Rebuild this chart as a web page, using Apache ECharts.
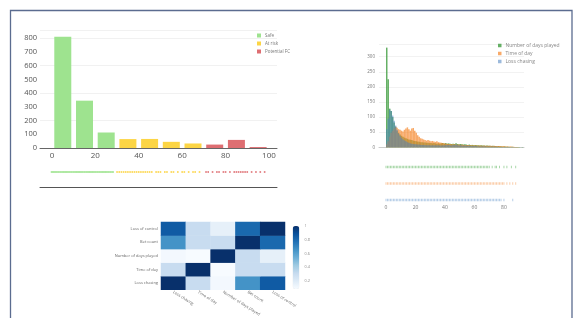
<!DOCTYPE html>
<html><head><meta charset="utf-8">
<script src="https://cdn.jsdelivr.net/npm/echarts@6/dist/echarts.min.js"></script>
<style>html,body{margin:0;padding:0;background:#fff}#c{width:575px;height:318px}</style>
</head><body><div id="c"></div>
<script>
// ---------- Left: risk score histogram ----------
const riskBinCenters = [5, 15, 25, 35, 45, 55, 65, 75, 85, 95];
const safeCounts = [811, 345, 113, null, null, null, null, null, null, null];
const atRiskCounts = [null, null, null, 65, 66, 45, 33, null, null, null];
const potentialFcCounts = [null, null, null, null, null, null, null, 25, 59, 7];
const riskXTicks = [0, 20, 40, 60, 80, 100];
const riskYTicks = [0, 100, 200, 300, 400, 500, 600, 700, 800];
const safeRug = [0,1,2,3,4,5,6,7,8,9,10,11,12,13,14,15,16,17,18,19,20,21,22,23,24,25,26,27,28];
const atRiskRug = [30,31,32,33,34,35,36,37,38,39,40,41,42,43,44,45,46,48,49,50,52,53,55,56,58,60,61,63,65,66,68];
const potentialFcRug = [71,72,74,76,77,79,80,82,84,85,86,87,88,89,90,92,94,96,98];

// ---------- Right: feature histograms ----------
const featureBinStarts = [0,1,2,3,4,5,6,7,8,9,10,11,12,13,14,15,16,17,18,19,20,21,22,23,24,25,26,27,28,29,30,31,32,33,34,35,36,37,38,39,40,41,42,43,44,45,46,47,48,49,50,51,52,53,54,55,56,57,58,59,60,61,62,63,64,65,66,67,68,69,70,71,72,73,74,75,76,77,78,79,80,81,82,83,84,85,86,87,88,89,90,91,92,93];
const daysPlayedCounts = [330,225,128,120,100,82,68,55,48,42,38,35,32,30,28,26,25,24,22,21,20,19,18,17,17,16,16,15,15,14,14,13,14,13,12,13,12,13,14,12,14,12,13,12,11,12,11,13,11,10,11,10,9,10,9,8,9,8,8,7,8,7,7,6,7,6,6,5,6,5,5,4,5,4,4,3,4,3,3,2,3,2,2,2,1,2,1,1,1,1,1,0,1,0];
const timeOfDayCounts = [10,20,35,48,55,62,68,65,60,58,55,52,58,62,66,60,55,62,64,55,48,40,35,30,28,26,24,22,24,22,20,21,19,18,20,17,16,15,14,13,12,12,11,11,10,10,10,9,9,9,8,9,8,8,7,8,7,7,7,6,7,6,6,6,6,5,6,5,5,5,5,5,4,5,4,4,4,4,3,4,3,3,3,2,3,2,2,1,1,1,0,0,0,0];
const lossChasingCounts = [60,95,125,120,105,88,72,58,46,38,32,27,23,20,17,15,13,12,11,10,10,9,9,8,8,8,7,7,7,7,6,7,6,7,6,7,6,6,7,6,8,7,8,7,6,8,7,9,7,6,7,6,5,6,5,5,5,4,4,4,4,4,3,3,3,3,3,3,2,2,2,2,2,2,2,2,1,1,1,1,1,1,1,1,0,1,0,0,0,0,0,0,0,0];
const featureXTicks = [0, 20, 40, 60, 80];
const featureYTicks = [0, 50, 100, 150, 200, 250, 300];
const daysPlayedRug = [0,1,2,3,4,5,6,7,8,9,10,11,12,13,14,15,16,17,18,19,20,21,22,23,24,25,26,27,28,29,30,31,32,33,34,35,36,37,38,39,40,41,42,43,44,45,46,47,48,49,50,51,52,53,54,55,56,57,58,59,60,61,62,63,64,65,66,67,68,69,70,72,74,75,77,80,82,85,88];
const timeOfDayRug = [0,1,2,3,4,5,6,7,8,9,10,11,12,13,14,15,16,17,18,19,20,21,22,23,24,25,26,27,28,29,30,31,32,33,34,35,36,37,38,39,40,41,42,43,44,45,46,47,48,49,50,51,52,53,54,55,56,57,58,59,60,61,62,63,64,65,66,67,68,69,70,71,72,73,74,75,76,77,78,79,80,82,84,86,88];
const lossChasingRug = [0,1,2,3,4,5,6,7,8,9,10,11,12,13,14,15,16,17,18,19,20,21,22,23,24,25,26,27,28,29,30,31,32,33,34,35,36,37,38,39,40,41,42,43,44,45,46,47,48,49,50,51,52,53,54,55,56,57,58,59,60,61,62,63,64,65,66,67,68,69,70,71,72,73,74,75,76,77,78,80,86];

// ---------- Bottom: correlation heatmap ----------
const corrLabels = ['Loss chasing', 'Time of day', 'Number of days played', 'Bet count', 'Loss of control'];
const corrMatrix = [ // rows: corrLabels (y, bottom->top), cols: corrLabels (x)
  [1.00, 0.30, 0.10, 0.65, 0.85],
  [0.30, 1.00, 0.08, 0.30, 0.30],
  [0.10, 0.08, 1.00, 0.30, 0.16],
  [0.65, 0.30, 0.30, 1.00, 0.80],
  [0.85, 0.30, 0.16, 0.80, 1.00]
];
const colorbarTicks = [0.2, 0.4, 0.6, 0.8, 1];

const FONT = '"Open Sans", sans-serif';
const safeC = '#9ee38f', riskC = '#fcd545', fcC = '#de6e72';
const gC = '#3f9c3f', oC = '#f5862a', bC = '#4a82c0';

const pairs = (xs, ys) => xs.map((x, i) => [x, ys[i]]);
const rug = xs => xs.map(x => [x, 0.5]);
const binPairs = ys => featureBinStarts.map((b, i) => [b + 0.5, ys[i]]);
const rugRow = (xs, row) => xs.map(x => [x, row]);

const heatData = [];
corrMatrix.forEach((row, yi) => row.forEach((v, xi) => heatData.push([xi, yi, v])));

const chart = echarts.init(document.getElementById('c'), null, {renderer: 'canvas'});
chart.setOption({
  animation: false,
  textStyle: {fontFamily: FONT},
  graphic: [{
    type: 'rect', shape: {x: 10.5, y: 10.5, width: 561.5, height: 330},
    style: {fill: 'none', stroke: '#5b6c90', lineWidth: 1.3}, silent: true, z: -1
  }],
  legend: [{
    data: ['Safe', 'At risk', 'Potential FC'], orient: 'vertical', left: 257, top: 33,
    itemWidth: 4, itemHeight: 4, itemGap: 3, icon: 'rect', padding: 0,
    textStyle: {fontSize: 4.5, color: '#777', padding: [0, 0, 0, -1]}
  }, {
    data: ['Number of days played', 'Time of day', 'Loss chasing'], orient: 'vertical', left: 498, top: 43,
    itemWidth: 3.5, itemHeight: 3.5, itemGap: 3, icon: 'rect', padding: 0,
    textStyle: {fontSize: 5, color: '#888', padding: [0, 0, 0, -1]}
  }],
  grid: [
    {left: 40, top: 30, width: 237, height: 118},          // 0 left hist
    {left: 40, top: 170, width: 237, height: 4},           // 1 left rug
    {left: 40, top: 186, width: 237, height: 1},           // 2 left line
    {left: 379, top: 44.6, width: 145, height: 102.7},     // 3 right hist
    {left: 379, top: 163.7, width: 145, height: 39.6},     // 4 right rugs
    {left: 161, top: 222, width: 124, height: 70},         // 5 heatmap
    {left: 293, top: 226, width: 6.6, height: 63}          // 6 colorbar ticks
  ],
  xAxis: [
    {gridIndex: 0, type: 'value', min: -5.5, max: 103.7,
      axisLine: {lineStyle: {color: '#666', width: 1}}, axisTick: {show: false}, splitLine: {show: false},
      axisLabel: {customValues: riskXTicks, fontSize: 8, color: '#555', margin: 4}},
    {gridIndex: 1, type: 'value', min: -5.5, max: 103.7, show: false},
    {gridIndex: 2, type: 'value', min: 0, max: 1, axisLine: {lineStyle: {color: '#555', width: 1}},
      axisTick: {show: false}, axisLabel: {show: false}, splitLine: {show: false}},
    {gridIndex: 3, type: 'value', min: -4.75, max: 93.6,
      axisLine: {lineStyle: {color: '#ccc', width: 1}}, axisTick: {show: false}, splitLine: {show: false},
      axisLabel: {show: false}},
    {gridIndex: 4, type: 'value', min: -4.75, max: 93.6,
      axisLine: {show: false}, axisTick: {show: false}, splitLine: {show: false},
      axisLabel: {customValues: featureXTicks, fontSize: 5, color: '#777', margin: 2}},
    {gridIndex: 5, type: 'category', data: corrLabels,
      axisLine: {show: false}, axisTick: {show: false}, splitLine: {show: false},
      axisLabel: {rotate: -32, fontSize: 4, color: '#666', margin: 2, interval: 0}},
    {gridIndex: 6, type: 'value', min: 0, max: 1, show: false}
  ],
  yAxis: [
    {gridIndex: 0, type: 'value', min: 0, max: 860,
      axisLine: {show: false}, axisTick: {show: false},
      splitLine: {lineStyle: {color: '#f1f1f1', width: 1}},
      axisLabel: {customValues: riskYTicks, fontSize: 7.5, color: '#555', margin: 3}},
    {gridIndex: 1, type: 'value', min: 0, max: 1, show: false},
    {gridIndex: 2, type: 'value', min: 0, max: 1, show: false},
    {gridIndex: 3, type: 'value', min: 0, max: 340,
      axisLine: {show: false}, axisTick: {show: false},
      splitLine: {lineStyle: {color: '#f2f2f2', width: 1}},
      axisLabel: {customValues: featureYTicks, fontSize: 4.5, color: '#777', margin: 4}},
    {gridIndex: 4, type: 'value', min: -0.2, max: 2.2, show: false},
    {gridIndex: 5, type: 'category', data: corrLabels,
      axisLine: {show: false}, axisTick: {show: false}, splitLine: {show: false},
      axisLabel: {fontSize: 4, color: '#666', margin: 3, interval: 0}},
    {gridIndex: 6, type: 'value', min: 0.084, max: 1, position: 'right',
      axisLine: {show: false}, axisTick: {show: false}, splitLine: {show: false},
      axisLabel: {customValues: colorbarTicks, fontSize: 3.8, color: '#888', margin: 5}}
  ],
  visualMap: {
    type: 'continuous', seriesIndex: 12, min: 0.08, max: 1, calculable: false,
    left: 292.7, top: 226, itemWidth: 6.6, itemHeight: 63, padding: 0, text: null, showLabel: false,
    inRange: {color: ['#f7fbff', '#deebf7', '#c6dbef', '#9ecae1', '#6baed6', '#4292c6', '#2171b5', '#08519c', '#08306b']}
  },
  series: [
    {name: 'Safe', type: 'bar', xAxisIndex: 0, yAxisIndex: 0, barWidth: 17, barGap: '-100%',
      itemStyle: {color: safeC}, data: pairs(riskBinCenters, safeCounts)},
    {name: 'At risk', type: 'bar', xAxisIndex: 0, yAxisIndex: 0, barWidth: 17, barGap: '-100%',
      itemStyle: {color: riskC}, data: pairs(riskBinCenters, atRiskCounts)},
    {name: 'Potential FC', type: 'bar', xAxisIndex: 0, yAxisIndex: 0, barWidth: 17, barGap: '-100%',
      itemStyle: {color: fcC}, data: pairs(riskBinCenters, potentialFcCounts)},
    {name: 'Safe', type: 'scatter', xAxisIndex: 1, yAxisIndex: 1, symbol: 'rect', symbolSize: [2.4, 2],
      itemStyle: {color: safeC}, data: rug(safeRug)},
    {name: 'At risk', type: 'scatter', xAxisIndex: 1, yAxisIndex: 1, symbol: 'rect', symbolSize: [1.6, 2],
      itemStyle: {color: riskC}, data: rug(atRiskRug)},
    {name: 'Potential FC', type: 'scatter', xAxisIndex: 1, yAxisIndex: 1, symbol: 'rect', symbolSize: [1.6, 2],
      itemStyle: {color: fcC}, data: rug(potentialFcRug)},
    {name: 'Number of days played', type: 'bar', xAxisIndex: 3, yAxisIndex: 3, barWidth: 1.5, barGap: '-100%',
      itemStyle: {color: gC, opacity: 0.8}, data: binPairs(daysPlayedCounts)},
    {name: 'Time of day', type: 'bar', xAxisIndex: 3, yAxisIndex: 3, barWidth: 1.5, barGap: '-100%',
      itemStyle: {color: oC, opacity: 0.7}, data: binPairs(timeOfDayCounts)},
    {name: 'Loss chasing', type: 'bar', xAxisIndex: 3, yAxisIndex: 3, barWidth: 1.5, barGap: '-100%',
      itemStyle: {color: bC, opacity: 0.55}, data: binPairs(lossChasingCounts)},
    {name: 'Number of days played', type: 'scatter', xAxisIndex: 4, yAxisIndex: 4, symbol: 'rect', symbolSize: [0.8, 2.5],
      itemStyle: {color: '#7cc27c'}, data: rugRow(daysPlayedRug, 2)},
    {name: 'Time of day', type: 'scatter', xAxisIndex: 4, yAxisIndex: 4, symbol: 'rect', symbolSize: [0.8, 2.5],
      itemStyle: {color: '#f7b27a'}, data: rugRow(timeOfDayRug, 1)},
    {name: 'Loss chasing', type: 'scatter', xAxisIndex: 4, yAxisIndex: 4, symbol: 'rect', symbolSize: [0.8, 2.5],
      itemStyle: {color: '#8fb3da'}, data: rugRow(lossChasingRug, 0)},
    {name: 'corr', type: 'heatmap', xAxisIndex: 5, yAxisIndex: 5, data: heatData}
  ]
});
</script>
</body></html>
